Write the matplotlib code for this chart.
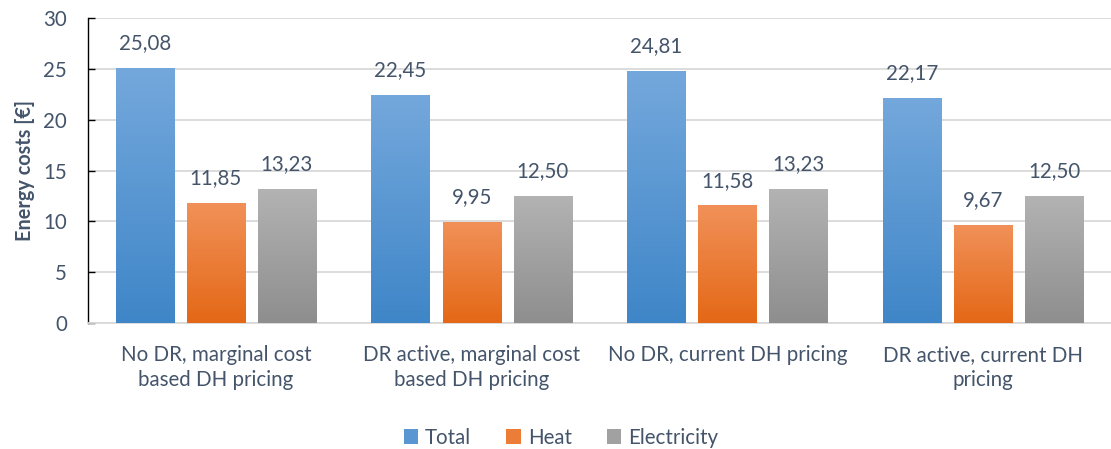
import numpy as np
import matplotlib
matplotlib.use("Agg")
import matplotlib.pyplot as plt
from matplotlib.colors import LinearSegmentedColormap
from matplotlib.patches import Patch

plt.rcParams['font.family'] = ['Lato', 'DejaVu Sans']

categories = [
    "No DR, marginal cost\nbased DH pricing",
    "DR active, marginal cost\nbased DH pricing",
    "No DR, current DH pricing",
    "DR active, current DH\npricing",
]
series_names = ["Total", "Heat", "Electricity"]
total = [25.08, 22.45, 24.81, 22.17]
heat = [11.85, 9.95, 11.58, 9.67]
electricity = [13.23, 12.50, 13.23, 12.50]
yticks = [0, 5, 10, 15, 20, 25, 30]

# top / bottom colours of each series' vertical gradient
gradients = [
    ("#74A8DC", "#3F86C8"),
    ("#F19159", "#E46816"),
    ("#B3B3B3", "#8E8E8E"),
]
text_color = "#44546A"
grid_color = "#D9D9D9"
fs = 14.8

fig = plt.figure(figsize=(11.11, 4.49), dpi=100)
ax = fig.add_axes([0.0792, 0.2806, 0.9208, 0.6793])

x = np.arange(len(categories))
width = 0.227
step = 0.278
series = [total, heat, electricity]

ax.set_xlim(-0.5, len(categories) - 0.5)
ax.set_ylim(0, 30)

grad = np.linspace(1, 0, 256).reshape(-1, 1)
for k, (vals, (top, bot)) in enumerate(zip(series, gradients)):
    pos = x + (k - 1) * step
    bars = ax.bar(pos, vals, width=width, color=bot, zorder=2, linewidth=0)
    cmap = LinearSegmentedColormap.from_list(f"g{k}", [bot, top])
    for b, v in zip(bars, vals):
        bx, by = b.get_x(), b.get_y()
        bw, bh = b.get_width(), b.get_height()
        im = ax.imshow(grad, cmap=cmap, vmin=0, vmax=1, aspect="auto",
                       extent=(bx, bx + bw, by, by + bh), zorder=3,
                       interpolation="bilinear", origin="upper")
        im.set_clip_path(b)
        ax.annotate(f"{v:.2f}".replace(".", ","), (bx + bw / 2, by + bh),
                    xytext=(0, 10.5), textcoords="offset points",
                    ha="center", va="bottom", fontsize=fs, color=text_color)

ax.set_xlim(-0.5, len(categories) - 0.5)
ax.set_ylim(0, 30)

ax.set_yticks(yticks)
ax.set_yticklabels([str(t) for t in yticks])
ax.yaxis.grid(True, color=grid_color, linewidth=1.3, zorder=0)
ax.set_axisbelow(True)
ax.tick_params(axis="y", direction="in", length=5, width=1, color="black",
               pad=15, labelsize=fs, labelcolor=text_color)
ax.set_xticks(x)
ax.set_xticklabels(categories, linespacing=1.3)
ax.tick_params(axis="x", length=0, pad=16, labelsize=fs, labelcolor=text_color)

for s in ("top", "right"):
    ax.spines[s].set_visible(False)
ax.spines["left"].set_color("black")
ax.spines["left"].set_linewidth(1)
ax.spines["bottom"].set_color(grid_color)
ax.spines["bottom"].set_linewidth(1.3)

ax.set_ylabel("Energy costs [€]", fontsize=14.3, fontweight="bold",
              color=text_color, labelpad=6)

handles = [Patch(facecolor=((0.5 * int(t[1:3], 16) + 0.5 * int(b[1:3], 16)) / 255,
                            (0.5 * int(t[3:5], 16) + 0.5 * int(b[3:5], 16)) / 255,
                            (0.5 * int(t[5:7], 16) + 0.5 * int(b[5:7], 16)) / 255))
           for t, b in gradients]
fig.legend(handles, series_names, loc="center", bbox_to_anchor=(0.505, 0.025),
           ncol=3, frameon=False, fontsize=fs, labelcolor=text_color,
           handlelength=0.7, handleheight=0.7, handletextpad=0.35,
           columnspacing=1.7)

fig.savefig("out.png", dpi=100)
